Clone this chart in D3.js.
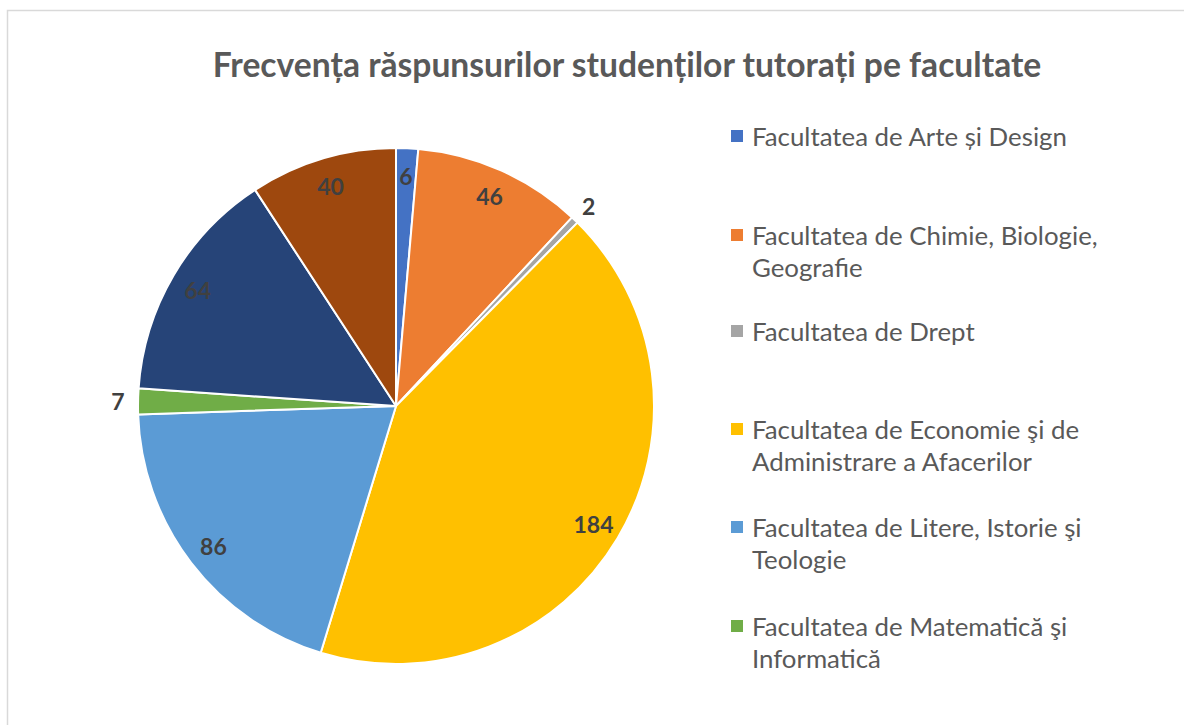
<!DOCTYPE html>
<html><head><meta charset="utf-8">
<script src="https://cdn.jsdelivr.net/npm/d3@7"></script>
<style>html,body{margin:0;padding:0;background:#fff;}svg{display:block;}</style>
</head><body>
<svg id="chart" width="1184" height="725"></svg>
<script>
const title = "Frecvența răspunsurilor studenților tutorați pe facultate";
const categories = [
  "Facultatea de Arte și Design",
  "Facultatea de Chimie, Biologie, Geografie",
  "Facultatea de Drept",
  "Facultatea de Economie şi de Administrare a Afacerilor",
  "Facultatea de Litere, Istorie şi Teologie",
  "Facultatea de Matematică şi Informatică",
  "Facultatea de Sociologie şi Psihologie",
  "Facultatea de Muzică şi Teatru"
];
const values = [6, 46, 2, 184, 86, 7, 64, 40];
const colors = ["#4472C4", "#ED7D31", "#A5A5A5", "#FFC000", "#5B9BD5", "#70AD47", "#264478", "#9E480E"];
// legend rows as displayed (wrapped lines); only the first six are visible
const legendLines = [
  ["Facultatea de Arte și Design"],
  ["Facultatea de Chimie, Biologie,", "Geografie"],
  ["Facultatea de Drept"],
  ["Facultatea de Economie şi de", "Administrare a Afacerilor"],
  ["Facultatea de Litere, Istorie şi", "Teologie"],
  ["Facultatea de Matematică şi", "Informatică"]
];
const outsideLabels = new Set([2, 5]);

const svg = d3.select("#chart");
const FONT = "Lato, 'Open Sans', sans-serif";

// chart border
svg.append("path").attr("d", "M7.5,725 V10.5 H1184").attr("fill", "none")
  .attr("stroke", "#d9d9d9").attr("stroke-width", 1.5);

// title
const t = svg.append("text").attr("x", 627).attr("y", 77).attr("text-anchor", "middle")
  .attr("font-family", FONT).attr("font-weight", "bold").attr("font-size", 27)
  .attr("fill", "#595959").text(title);
{
  const w = t.node().getComputedTextLength();
  t.attr("font-size", 27 * 829 / w);
}

// pie
const cx = 396, cy = 406, R = 258;
const pie = d3.pie().sort(null).value(d => d)(values);
const arc = d3.arc().innerRadius(0).outerRadius(R);
const g = svg.append("g").attr("transform", `translate(${cx},${cy})`);
g.selectAll("path.slice").data(pie).join("path").attr("class", "slice")
  .attr("d", arc).attr("fill", (d, i) => colors[i])
  .attr("stroke", "#fff").attr("stroke-width", 2).attr("stroke-linejoin", "round");

const inArc = d3.arc().innerRadius(230).outerRadius(230);
const outArc = d3.arc().innerRadius(278).outerRadius(278);
g.selectAll("text.lbl").data(pie).join("text").attr("class", "lbl")
  .attr("transform", (d, i) => `translate(${(outsideLabels.has(i) ? outArc : inArc).centroid(d)})`)
  .attr("text-anchor", "middle").attr("dominant-baseline", "central")
  .attr("font-family", FONT).attr("font-weight", "bold").attr("font-size", 23)
  .attr("fill", "#404040").text(d => d.value);

// legend
const legendY = [136, 235, 331, 429, 527, 626];
const lg = svg.append("g");
legendLines.forEach((lines, i) => {
  lg.append("rect").attr("x", 731).attr("y", legendY[i] - 6).attr("width", 12).attr("height", 12)
    .attr("fill", colors[i]);
  lines.forEach((ln, j) => {
    lg.append("text").attr("class", "leg").attr("x", 752).attr("y", legendY[i] + j * 32)
      .attr("dominant-baseline", "central")
      .attr("font-family", FONT).attr("font-size", 22).attr("fill", "#595959").text(ln);
  });
});
{
  const first = lg.select("text.leg").node();
  const w = first.getComputedTextLength();
  const fs = 22 * 315 / w;
  lg.selectAll("text.leg").attr("font-size", fs);
}
</script>
</body></html>
